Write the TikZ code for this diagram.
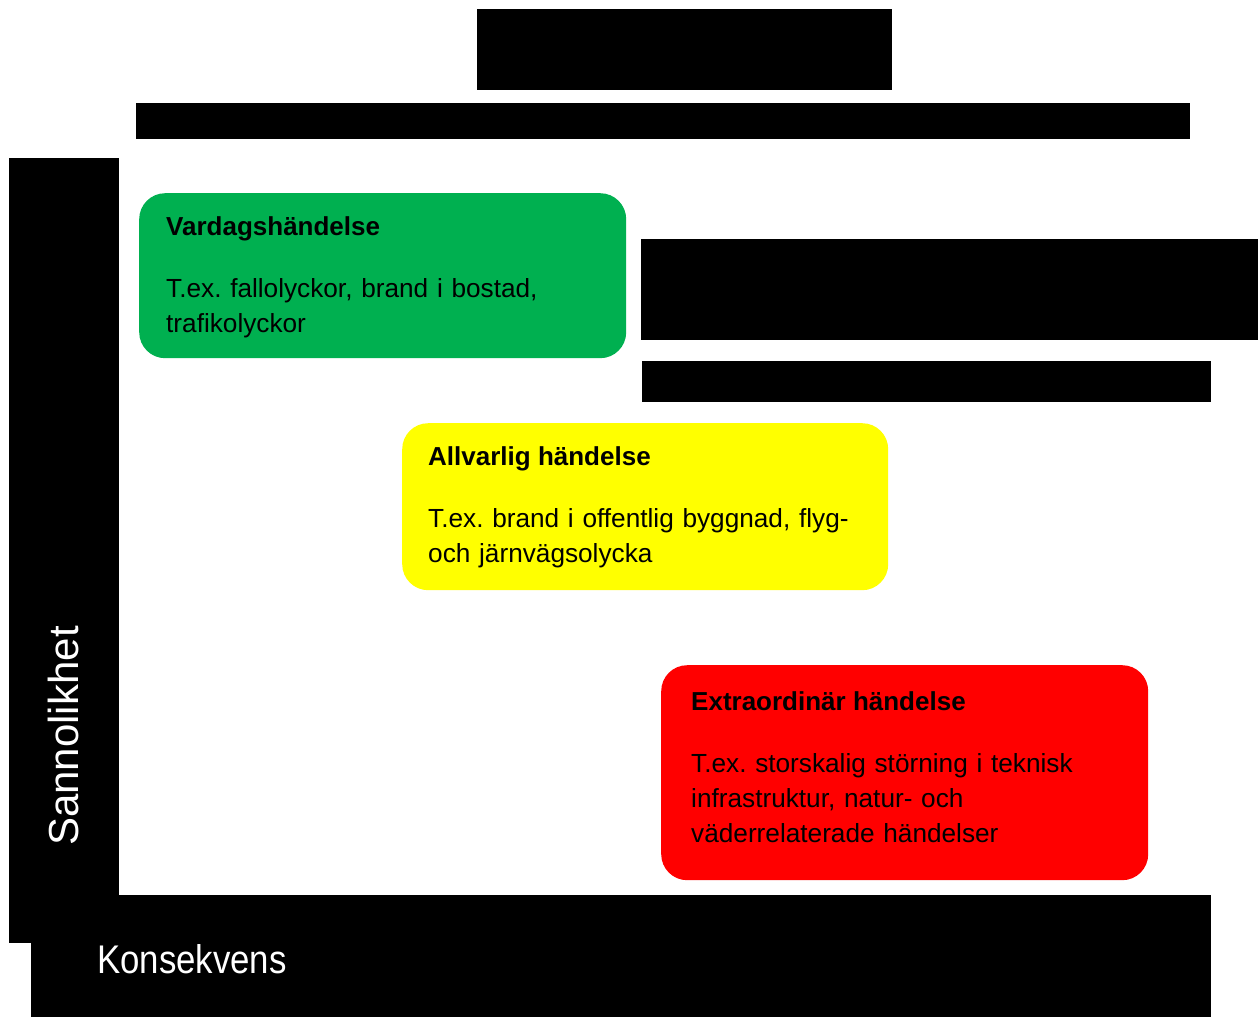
\documentclass[tikz,border=0pt]{standalone}
\usepackage{fontspec}
\setmainfont{Liberation Sans}
\frenchspacing
\definecolor{gron}{HTML}{00B050}
\definecolor{gul}{HTML}{FFFF00}
\definecolor{rod}{HTML}{FF0000}

\begin{document}
\begin{tikzpicture}[x=1pt,y=-1pt,
	ruta/.style={rounded corners=26pt, anchor=north west, inner sep=0pt},
	rubrik/.style={anchor=base west, inner sep=0pt, font=\fontsize{26}{35}\selectfont\bfseries},
	brodtext/.style={anchor=base west, inner sep=0pt, text width=470pt, align=left, font=\fontsize{26.2}{35}\selectfont},
	axeltext/.style={text=white, inner sep=0pt, font=\fontsize{40}{40}\selectfont}]
					\useasboundingbox (0,0) rectangle (1258,1017);
					
					% svarta fält
					\fill[black] (477,9) rectangle (892,90);
					\fill[black] (136,103) rectangle (1190,139);
					\fill[black] (641,239) rectangle (1258,340);
					\fill[black] (642,361) rectangle (1211,402);
					\fill[black] (9,158) rectangle (119,943);
					\fill[black] (31,895) rectangle (1211,1017);
					
					% rutorna
					\node[ruta, fill=gron, minimum width=487pt, minimum height=165pt] (vardag) at (139,193) {};
					\node[ruta, fill=gul, minimum width=486pt, minimum height=167pt] (allvarlig) at (402,423) {};
					\node[ruta, fill=rod, minimum width=487pt, minimum height=215pt] (extra) at (661,665) {};
					
					\node[rubrik] (vardagrubrik) at (166,235) {Vardagshändelse};
					\node[brodtext] (vardagtext) at (166,297) {T.ex. fallolyckor, brand i bostad,\\trafikolyckor};
					
					\node[rubrik] (allvarligrubrik) at (428,465) {Allvarlig händelse};
					\node[brodtext] (allvarligtext) at (428,527) {T.ex. brand i offentlig byggnad, flyg-\\och järnvägsolycka};
					
					\node[rubrik] (extrarubrik) at (691,710) {Extraordinär händelse};
					\node[brodtext] (extratext) at (691,772) {T.ex. storskalig störning i teknisk\\infrastruktur, natur- och\\väderrelaterade händelser};
					
					% axlarna
					\node[axeltext, rotate=90, anchor=base, font=\fontsize{42}{42}\selectfont] (sannolikhet) at (78,736) {Sannolikhet};
					\node[axeltext, anchor=base west, xscale=0.87] (konsekvens) at (97,973) {Konsekvens};
				\end{tikzpicture}
\end{document}
